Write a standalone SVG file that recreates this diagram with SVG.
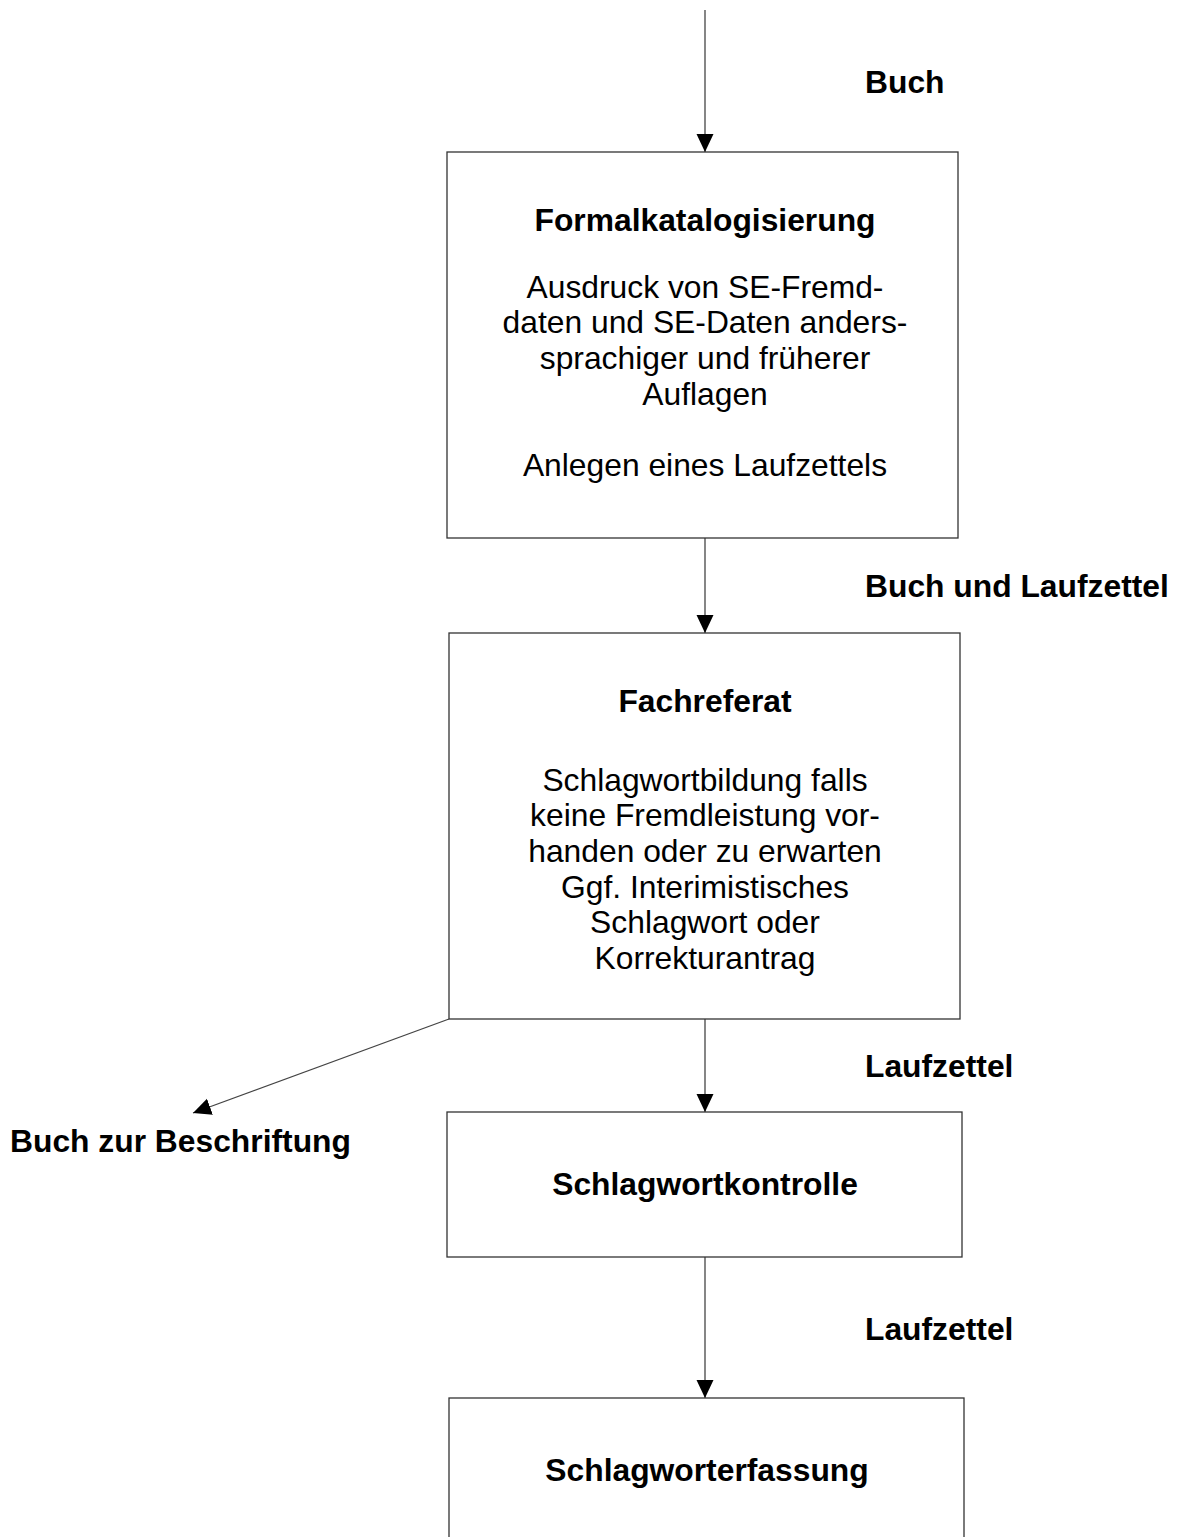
<svg xmlns="http://www.w3.org/2000/svg" width="1180" height="1537" viewBox="0 0 1180 1537">
<style>
.box{fill:#fff;stroke:#333;stroke-width:1.3}
.c{fill:none;stroke:#444;stroke-width:1.3}
.t{font-family:"Liberation Sans",Arial,sans-serif;font-size:31.8px;fill:#000;text-anchor:middle}
.b{font-weight:bold}
.l{font-family:"Liberation Sans",Arial,sans-serif;font-size:31.8px;font-weight:bold;fill:#000}
</style>
<defs>
<marker id="ah" markerWidth="18" markerHeight="18" refX="18" refY="9" orient="auto" markerUnits="userSpaceOnUse">
<path d="M0,0.5 L18,9 L0,17.5 Z" fill="#000"/>
</marker>
</defs>
<rect width="1180" height="1537" fill="#fff"/>
<g id="connectors">
<line class="c" x1="705" y1="10" x2="705" y2="152" marker-end="url(#ah)"/>
<line class="c" x1="705" y1="538" x2="705" y2="633" marker-end="url(#ah)"/>
<line class="c" x1="705" y1="1019" x2="705" y2="1112" marker-end="url(#ah)"/>
<line class="c" x1="449" y1="1019" x2="193" y2="1113" marker-end="url(#ah)"/>
<line class="c" x1="705" y1="1257" x2="705" y2="1398" marker-end="url(#ah)"/>
</g>
<g id="labels">
<text class="l" x="865" y="93">Buch</text>
<text class="l" x="865" y="597">Buch und Laufzettel</text>
<text class="l" x="865" y="1077">Laufzettel</text>
<text class="l" x="10" y="1152">Buch zur Beschriftung</text>
<text class="l" x="865" y="1340">Laufzettel</text>
</g>
<g id="formalkatalogisierung">
<rect class="box" x="447" y="152" width="511" height="386"/>
<text class="t b" x="705" y="231">Formalkatalogisierung</text>
<text class="t" x="705" y="298">Ausdruck von SE-Fremd-</text>
<text class="t" x="705" y="333">daten und SE-Daten anders-</text>
<text class="t" x="705" y="369">sprachiger und früherer</text>
<text class="t" x="705" y="405">Auflagen</text>
<text class="t" x="705" y="476">Anlegen eines Laufzettels</text>
</g>
<g id="fachreferat">
<rect class="box" x="449" y="633" width="511" height="386"/>
<text class="t b" x="705" y="712">Fachreferat</text>
<text class="t" x="705" y="791">Schlagwortbildung falls</text>
<text class="t" x="705" y="826">keine Fremdleistung vor-</text>
<text class="t" x="705" y="862">handen oder zu erwarten</text>
<text class="t" x="705" y="898">Ggf. Interimistisches</text>
<text class="t" x="705" y="933">Schlagwort oder</text>
<text class="t" x="705" y="969">Korrekturantrag</text>
</g>
<g id="schlagwortkontrolle">
<rect class="box" x="447" y="1112" width="515" height="145"/>
<text class="t b" x="705" y="1195">Schlagwortkontrolle</text>
</g>
<g id="schlagworterfassung">
<rect class="box" x="449" y="1398" width="515" height="160"/>
<text class="t b" x="707" y="1481">Schlagworterfassung</text>
</g>
</svg>
